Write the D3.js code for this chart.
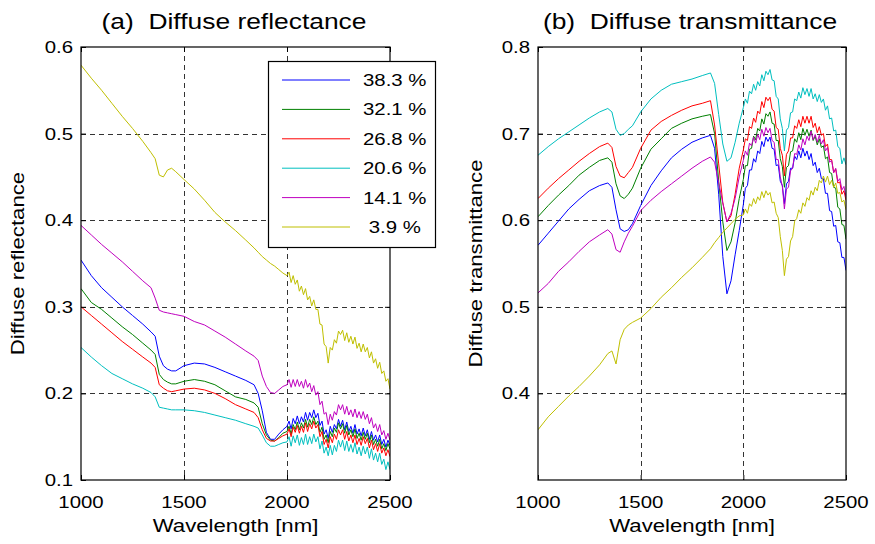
<!DOCTYPE html>
<html>
<head>
<meta charset="utf-8">
<script src="https://cdn.jsdelivr.net/npm/d3@7/dist/d3.min.js"></script>
<style>
  html, body { margin: 0; padding: 0; background: #fff; }
  svg { display: block; }
  text { font-family: 'Liberation Sans', Arial, Helvetica, sans-serif; fill: #000; white-space: pre; }
</style>
</head>
<body>
<svg id="chart" width="875" height="544"></svg>
<script>
// Wavelength grid (nm) shared by every spectrum: coarse below 2000 nm, 10 nm above
const wavelength = [1000,1050,1100,1150,1200,1250,1300,1340,1360,1380,1400,1420,1440,1460,
  1500,1550,1600,1650,1700,1750,1800,1840,1860,1880,1900,1920,1940,1960,1980,
  2000,2010,2020,2030,2040,2050,2060,2070,2080,2090,2100,2110,2120,2130,2140,2150,
  2160,2170,2180,2190,2200,2210,2220,2230,2240,2250,2260,2270,2280,2290,2300,2310,
  2320,2330,2340,2350,2360,2370,2380,2390,2400,2410,2420,2430,2440,2450,2460,2470,
  2480,2490,2500];

const seriesNames = ["38.3 %", "32.1 %", "26.8 %", "20.6 %", "14.1 %", " 3.9 %"];
const seriesColors = ["#0000ff", "#008000", "#ff0000", "#00bfbf", "#bf00bf", "#bfbf00"];

// (a) diffuse reflectance
const refl383 = [.354,.336,.322,.311,.300,.290,.280,.271,.266,.243,.232,.228,.226,.226,
  .232,.235,.234,.230,.225,.220,.215,.210,.200,.180,.155,.147,.147,.153,.158,
  .162,.168,.159,.171,.165,.174,.165,.173,.167,.178,.169,.178,.172,.181,.172,.177,
  .163,.168,.153,.158,.148,.162,.155,.164,.159,.170,.162,.169,.158,.167,.156,.162,
  .154,.164,.153,.159,.151,.160,.151,.158,.147,.156,.146,.152,.144,.152,.141,.147,
  .138,.146,.140];
const refl321 = [.321,.305,.297,.287,.277,.268,.258,.250,.245,.222,.216,.213,.211,.211,
  .214,.216,.214,.210,.203,.196,.193,.189,.184,.165,.152,.146,.145,.149,.154,
  .156,.162,.153,.164,.158,.167,.158,.166,.160,.170,.161,.170,.164,.173,.164,.168,
  .155,.161,.147,.152,.143,.156,.150,.160,.155,.166,.159,.165,.154,.163,.152,.158,
  .150,.159,.148,.154,.146,.155,.147,.154,.143,.152,.141,.147,.139,.147,.136,.142,
  .134,.142,.136];
const refl268 = [.300,.290,.280,.270,.260,.251,.242,.235,.230,.210,.206,.203,.202,.203,
  .205,.206,.204,.200,.194,.187,.182,.178,.172,.158,.148,.145,.145,.148,.151,
  .153,.159,.150,.161,.155,.163,.154,.162,.155,.166,.156,.165,.159,.168,.160,.164,
  .150,.156,.141,.147,.137,.150,.143,.153,.147,.158,.152,.158,.147,.156,.145,.152,
  .143,.152,.141,.148,.140,.150,.142,.148,.137,.146,.135,.142,.133,.142,.131,.137,
  .128,.135,.127];
const refl206 = [.253,.242,.232,.223,.217,.211,.206,.201,.196,.184,.183,.182,.181,.181,
  .181,.180,.178,.175,.172,.169,.165,.162,.160,.152,.143,.139,.139,.141,.143,
  .144,.150,.139,.151,.143,.152,.140,.149,.141,.153,.141,.150,.142,.153,.144,.150,
  .136,.145,.131,.138,.128,.140,.129,.140,.133,.146,.138,.146,.134,.145,.133,.141,
  .132,.143,.130,.138,.128,.139,.130,.138,.125,.136,.123,.131,.121,.131,.118,.124,
  .112,.121,.112];
const refl141 = [.394,.383,.372,.362,.352,.341,.330,.322,.310,.296,.294,.293,.292,.291,
  .289,.283,.279,.272,.265,.257,.249,.243,.238,.220,.208,.201,.200,.204,.208,
  .210,.216,.207,.216,.208,.216,.208,.214,.206,.216,.207,.212,.202,.209,.198,.202,
  .187,.191,.176,.178,.164,.176,.169,.179,.175,.187,.181,.187,.176,.185,.175,.181,
  .173,.182,.172,.179,.171,.179,.170,.176,.165,.172,.160,.165,.156,.164,.152,.157,
  .147,.154,.146];
const refl39 = [.579,.564,.550,.535,.520,.506,.491,.478,.471,.452,.450,.458,.460,.456,
  .447,.436,.423,.409,.398,.388,.377,.368,.363,.358,.354,.350,.347,.343,.339,
  .336,.340,.328,.336,.326,.331,.318,.324,.314,.321,.308,.312,.301,.308,.297,.297,
  .280,.279,.257,.254,.235,.253,.250,.262,.258,.272,.268,.273,.261,.270,.259,.266,
  .257,.265,.252,.258,.248,.257,.248,.253,.241,.248,.235,.240,.229,.236,.223,.226,
  .214,.217,.205];

// (b) diffuse transmittance
const trans383 = [.571,.585,.599,.613,.624,.634,.640,.643,.638,.612,.590,.587,.589,.596,
  .617,.640,.657,.672,.682,.690,.695,.698,.683,.630,.558,.515,.530,.560,.588,
  .618,.637,.640,.658,.658,.671,.667,.680,.677,.691,.685,.696,.691,.696,.683,.682,
  .663,.664,.645,.640,.619,.642,.645,.660,.660,.674,.670,.680,.672,.683,.674,.680,
  .670,.677,.663,.667,.655,.660,.648,.648,.631,.631,.611,.610,.593,.594,.575,.574,
  .557,.557,.542];
const trans321 = [.604,.617,.629,.640,.652,.661,.669,.672,.667,.642,.628,.625,.630,.637,
  .660,.682,.694,.706,.712,.717,.720,.722,.700,.645,.598,.565,.575,.597,.625,
  .647,.663,.663,.682,.683,.697,.693,.706,.703,.717,.711,.723,.720,.725,.712,.711,
  .692,.692,.671,.662,.638,.661,.663,.679,.680,.694,.690,.701,.693,.706,.698,.705,
  .697,.704,.692,.697,.687,.694,.684,.686,.671,.673,.655,.654,.638,.637,.615,.613,
  .595,.594,.578];
const trans268 = [.625,.637,.648,.658,.668,.677,.685,.689,.684,.662,.651,.649,.655,.661,
  .683,.704,.714,.721,.727,.732,.735,.738,.710,.665,.620,.598,.605,.630,.660,
  .681,.694,.692,.708,.706,.718,.713,.726,.723,.737,.730,.742,.738,.742,.728,.726,
  .707,.705,.683,.675,.651,.676,.680,.695,.695,.709,.706,.716,.708,.720,.712,.720,
  .712,.720,.707,.712,.701,.708,.698,.700,.685,.688,.670,.670,.655,.659,.643,.644,
  .630,.634,.623];
const trans206 = [.675,.685,.694,.702,.710,.718,.725,.729,.725,.705,.698,.700,.705,.709,
  .725,.740,.750,.757,.760,.763,.767,.770,.758,.722,.688,.668,.672,.690,.712,
  .730,.740,.735,.749,.746,.757,.750,.760,.755,.768,.761,.772,.768,.774,.762,.761,
  .743,.740,.717,.706,.680,.704,.707,.724,.725,.740,.738,.748,.741,.753,.745,.752,
  .743,.752,.740,.746,.737,.745,.736,.740,.727,.732,.717,.718,.703,.704,.685,.683,
  .665,.672,.664];
const trans141 = [.516,.527,.541,.552,.564,.575,.583,.589,.584,.566,.563,.575,.585,.593,
  .611,.623,.633,.642,.651,.660,.668,.673,.667,.643,.620,.598,.608,.625,.650,
  .669,.680,.675,.689,.686,.696,.689,.699,.693,.705,.697,.707,.701,.706,.692,.690,
  .670,.670,.650,.639,.613,.636,.638,.657,.660,.677,.676,.687,.681,.694,.687,.697,
  .692,.703,.693,.699,.690,.698,.688,.693,.680,.684,.667,.669,.655,.660,.645,.648,
  .635,.639,.627];
const trans39 = [.358,.373,.385,.397,.408,.420,.433,.446,.449,.434,.462,.474,.479,.482,
  .487,.498,.511,.522,.534,.545,.557,.567,.574,.580,.586,.591,.596,.601,.605,
  .606,.613,.608,.619,.616,.625,.619,.627,.623,.633,.626,.634,.629,.632,.620,.621,
  .608,.603,.581,.565,.536,.555,.558,.576,.581,.599,.602,.612,.608,.620,.616,.626,
  .623,.634,.629,.638,.634,.646,.643,.651,.644,.651,.641,.646,.638,.643,.631,.632,
  .621,.623,.612];

const xTicks = [1000, 1500, 2000, 2500];
const xGrid = [1500, 2000];
const reflTicks = [0.1, 0.2, 0.3, 0.4, 0.5, 0.6];
const reflGrid = [0.2, 0.3, 0.4, 0.5];
const transTicks = [0.4, 0.5, 0.6, 0.7, 0.8];
const transGrid = [0.4, 0.5, 0.6, 0.7];

const SX = 1.2;   // horizontal stretch of the lettering
const svg = d3.select("#chart");
svg.append("rect").attr("width", 875).attr("height", 544).attr("fill", "#fff");

function label(g, x, y, s, size, anchor, rot) {
  return g.append("text")
    .attr("transform", `translate(${x},${y})` + (rot ? ` rotate(${rot})` : "") + ` scale(${SX},1)`)
    .attr("text-anchor", anchor)
    .style("font-size", size + "px")
    .text(s);
}

const panels = [
  { left: 81, right: 390, top: 47, bottom: 480, yDomain: [0.1, 0.6],
    yTicks: reflTicks, yGrid: reflGrid,
    series: [refl383, refl321, refl268, refl206, refl141, refl39],
    title: "(a)  Diffuse reflectance", titleX: 234,
    ylabel: "Diffuse reflectance", ylabelX: 24, legend: true },
  { left: 538, right: 846, top: 47, bottom: 480, yDomain: [0.3, 0.8],
    yTicks: transTicks, yGrid: transGrid,
    series: [trans383, trans321, trans268, trans206, trans141, trans39],
    title: "(b)  Diffuse transmittance", titleX: 690,
    ylabel: "Diffuse transmittance", ylabelX: 482, legend: false }
];

panels.forEach((p, pi) => {
  const g = svg.append("g");
  const x = d3.scaleLinear().domain([1000, 2500]).range([p.left, p.right]);
  const y = d3.scaleLinear().domain(p.yDomain).range([p.bottom, p.top]);

  // dashed grid
  const grid = g.append("g").attr("stroke", "#333").attr("stroke-width", 1)
    .attr("stroke-dasharray", "5,4").attr("fill", "none");
  xGrid.forEach(v => grid.append("line")
    .attr("x1", Math.round(x(v)) + 0.5).attr("x2", Math.round(x(v)) + 0.5)
    .attr("y1", p.top).attr("y2", p.bottom));
  p.yGrid.forEach(v => grid.append("line")
    .attr("x1", p.left).attr("x2", p.right)
    .attr("y1", Math.round(y(v)) + 0.5).attr("y2", Math.round(y(v)) + 0.5));

  // spectra
  const clipId = "clip" + pi;
  svg.append("clipPath").attr("id", clipId).append("rect")
    .attr("x", p.left).attr("y", p.top)
    .attr("width", p.right - p.left).attr("height", p.bottom - p.top);
  const line = d3.line().x(d => x(d[0])).y(d => y(d[1]));
  const lines = g.append("g").attr("clip-path", `url(#${clipId})`);
  p.series.forEach((vals, i) => {
    lines.append("path")
      .datum(wavelength.map((w, k) => [w, vals[k]]))
      .attr("d", line)
      .attr("fill", "none")
      .attr("stroke", seriesColors[i])
      .attr("stroke-width", 1)
      .attr("stroke-linejoin", "round");
  });

  // inward tick marks on all four sides
  const styleAxis = a => {
    a.select(".domain").remove();
    a.selectAll(".tick line").attr("stroke", "#000").attr("stroke-width", 1);
    a.selectAll(".tick text").remove();
  };
  g.append("g").attr("transform", `translate(0,${p.bottom})`)
    .call(d3.axisBottom(x).tickValues(xTicks).tickSize(-5).tickFormat("")).call(styleAxis);
  g.append("g").attr("transform", `translate(0,${p.top})`)
    .call(d3.axisTop(x).tickValues(xTicks).tickSize(-5).tickFormat("")).call(styleAxis);
  g.append("g").attr("transform", `translate(${p.left},0)`)
    .call(d3.axisLeft(y).tickValues(p.yTicks).tickSize(-5).tickFormat("")).call(styleAxis);
  g.append("g").attr("transform", `translate(${p.right},0)`)
    .call(d3.axisRight(y).tickValues(p.yTicks).tickSize(-5).tickFormat("")).call(styleAxis);

  // axes box
  g.append("rect")
    .attr("x", p.left).attr("y", p.top)
    .attr("width", p.right - p.left).attr("height", p.bottom - p.top)
    .attr("fill", "none").attr("stroke", "#000").attr("stroke-width", 1.2);

  // tick labels
  xTicks.forEach(v => label(g, x(v), 508, String(v), 17, "middle"));
  p.yTicks.forEach(v => label(g, p.left - 8, y(v) + 6, d3.format(".1f")(v), 17, "end"));

  // titles
  label(g, p.titleX, 29, p.title, 22, "middle");
  label(g, (p.left + p.right) / 2, 532, "Wavelength [nm]", 18.5, "middle");
  label(g, p.ylabelX, (p.top + p.bottom) / 2, p.ylabel, 18.5, "middle", -90);

  // legend
  if (p.legend) {
    const lg = g.append("g");
    lg.append("rect").attr("x", 268.5).attr("y", 61.5).attr("width", 167).attr("height", 186)
      .attr("fill", "#fff").attr("stroke", "#000").attr("stroke-width", 1.2);
    seriesNames.forEach((name, i) => {
      const ry = 80 + i * 29.4;
      lg.append("line").attr("x1", 282).attr("x2", 350).attr("y1", ry).attr("y2", ry)
        .attr("stroke", seriesColors[i]).attr("stroke-width", 1);
      label(lg, 363, ry + 6, name, 17, "start");
    });
  }
});
</script>
</body>
</html>
